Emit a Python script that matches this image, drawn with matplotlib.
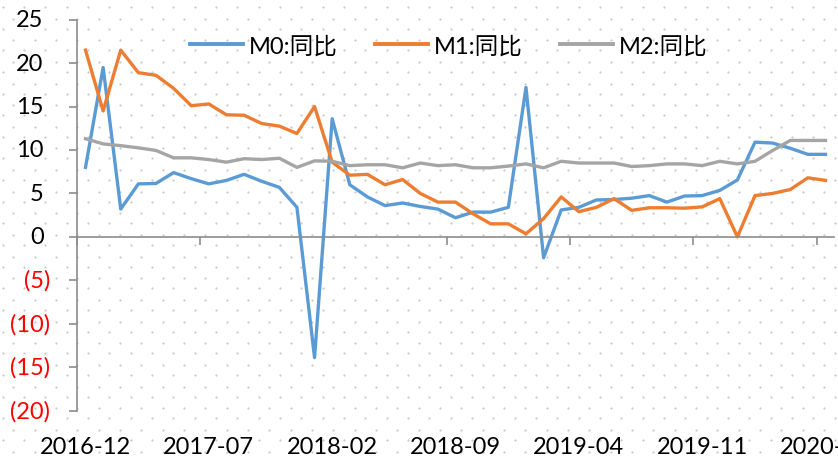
import matplotlib
matplotlib.use("Agg")
import matplotlib.pyplot as plt
import numpy as np

plt.rcParams["font.family"] = ["Lato", "Noto Sans CJK SC", "DejaVu Sans"]

# monthly, 2016-12 .. 2020-06
months = [f"{y}-{m:02d}" for y in range(2016, 2021) for m in range(1, 13)][11:11 + 43]
m0 = [8.0, 19.5, 3.2, 6.1, 6.15, 7.4, 6.7, 6.1, 6.5, 7.2, 6.4, 5.7, 3.4, -13.9,
      13.6, 6.0, 4.6, 3.6, 3.9, 3.5, 3.2, 2.2, 2.85, 2.85, 3.4, 17.2, -2.4, 3.1,
      3.4, 4.25, 4.3, 4.45, 4.75, 4.0, 4.7, 4.75, 5.35, 6.55, 10.9, 10.8, 10.2,
      9.5, 9.5]
m1 = [21.5, 14.5, 21.5, 18.9, 18.6, 17.1, 15.1, 15.3, 14.05, 14.0, 13.05, 12.75,
      11.9, 15.0, 8.6, 7.1, 7.2, 6.0, 6.6, 5.0, 4.0, 4.0, 2.65, 1.5, 1.5, 0.35,
      2.1, 4.6, 2.9, 3.4, 4.4, 3.05, 3.35, 3.35, 3.3, 3.45, 4.4, 0.0, 4.75, 5.0,
      5.45, 6.8, 6.5]
m2 = [11.3, 10.7, 10.5, 10.25, 9.95, 9.1, 9.1, 8.9, 8.6, 9.0, 8.9, 9.05, 8.0,
      8.75, 8.7, 8.2, 8.3, 8.3, 7.95, 8.5, 8.2, 8.3, 7.95, 7.95, 8.15, 8.4, 7.95,
      8.7, 8.5, 8.5, 8.5, 8.1, 8.2, 8.4, 8.4, 8.2, 8.7, 8.4, 8.7, 9.95, 11.1,
      11.1, 11.1]
series_names = ["M0:同比", "M1:同比", "M2:同比"]
colors = ["#5B9BD5", "#ED7D31", "#A5A5A5"]
yticks = [25, 20, 15, 10, 5, 0, -5, -10, -15, -20]

W, H = 838, 460
fig = plt.figure(figsize=(W / 100, H / 100), dpi=100)
fig.patch.set_facecolor("white")

# dotted background pattern
bg = fig.add_axes([0, 0, 1, 1], zorder=-5)
bg.set_xlim(0, W); bg.set_ylim(H, 0); bg.axis("off")
dx, dy = 21.33, 21.65
xa, ya = np.meshgrid(np.arange(2.65, W, dx), np.arange(7.9, H, dy))
xb, yb = np.meshgrid(np.arange(13.35, W, dx), np.arange(-2.1, H, dy))
bg.scatter(np.r_[xa.ravel(), xb.ravel()], np.r_[ya.ravel(), yb.ravel()],
           s=2.5, color="#c9c9c9", linewidths=0)

left, right, top, bottom = 76.7, 834.3, 20.7, 411.6
ax = fig.add_axes([left / W, 1 - bottom / H, (right - left) / W, (bottom - top) / H])
ax.patch.set_alpha(0)

x = np.arange(len(months))
for vals, name, c in zip([m0, m1, m2], series_names, colors):
    ax.plot(x, vals, color=c, lw=2.4, label=name, solid_joinstyle="round")

ax.set_xlim(-0.5, len(months) - 0.5)
ax.set_ylim(-20, 25)

axc = "#8c8c8c"
for s in ["top", "right"]:
    ax.spines[s].set_visible(False)
ax.spines["left"].set_color(axc); ax.spines["left"].set_linewidth(1.2)
ax.spines["bottom"].set_position(("data", 0))
ax.spines["bottom"].set_color(axc); ax.spines["bottom"].set_linewidth(1.2)

ax.set_yticks(yticks)
ax.set_yticklabels([])
ax.tick_params(axis="y", direction="out", length=6, width=1.2, color=axc)
ax.set_xticks(np.arange(-0.5, len(months), 7))
ax.set_xticklabels([])
ax.tick_params(axis="x", direction="out", length=6, width=1.2, color=axc)

fs = 17
for v in yticks:
    if v < 0:
        ax.annotate(f"({-v})", xy=(0, v), xycoords=("axes fraction", "data"),
                    xytext=(-19.3, 0), textcoords="offset points",
                    ha="right", va="center", fontsize=fs, color="#ff0000")
    else:
        ax.annotate(f"{v}", xy=(0, v), xycoords=("axes fraction", "data"),
                    xytext=(-23.8, 0), textcoords="offset points",
                    ha="right", va="center", fontsize=fs, color="black")

for i in range(0, len(months), 7):
    ax.annotate(months[i], xy=(i, -20), xycoords="data",
                xytext=(0, -25.5), textcoords="offset points",
                ha="center", va="center", fontsize=fs, color="black",
                annotation_clip=False)

leg = ax.legend(loc="center", bbox_to_anchor=(0.5 - 0.0092, 1 - (47 - top) / (bottom - top)),
                ncol=3, frameon=False, fontsize=fs, handlelength=2.25,
                handletextpad=0.25, columnspacing=1.57)
for ln in leg.get_lines():
    ln.set_linewidth(2.8)

fig.savefig("out.png", dpi=100)
